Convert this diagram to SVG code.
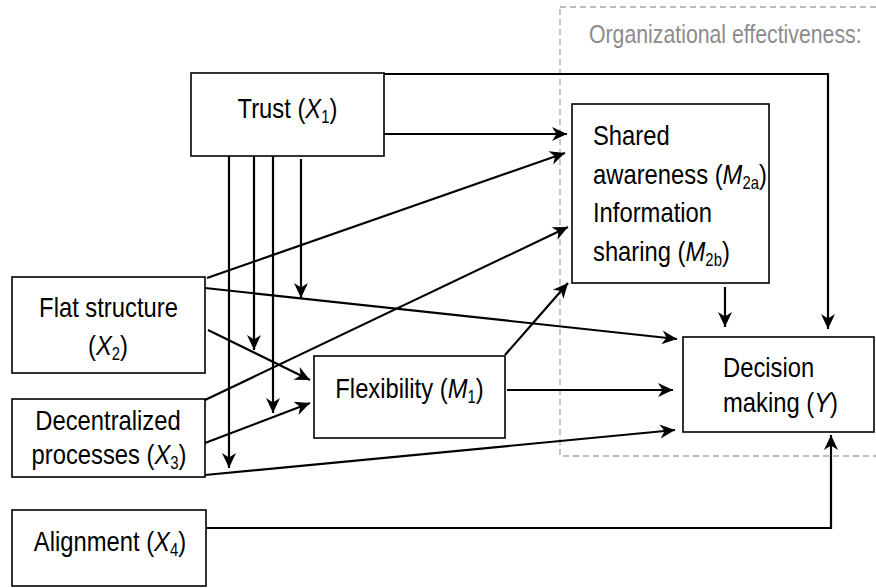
<svg xmlns="http://www.w3.org/2000/svg" width="876" height="588" viewBox="0 0 876 588">
  <defs>
    <style>
      .box { fill: #ffffff; stroke: #000000; stroke-width: 1.6; }
      .lbl { font-family: "Liberation Sans", Arial, sans-serif; font-size: 28px; fill: #000000; }
      .mid { text-anchor: middle; }
      .title { font-family: "Liberation Sans", Arial, sans-serif; font-size: 25.5px; fill: #8c8c8c; }
      .it { font-style: italic; }
      .sub { font-size: 17.5px; }
      .edge { fill: none; stroke: #000000; stroke-width: 2.2; }
      .frame { fill: none; stroke: #a6a6a6; stroke-width: 1.3; stroke-dasharray: 6 4; }
    </style>
    <marker id="arrow" viewBox="-16 -8 18 16" refX="0" refY="0" markerWidth="18" markerHeight="16" markerUnits="userSpaceOnUse" orient="auto">
      <path d="M0,0 L-15,-7 L-10.5,0 L-15,7 Z" fill="#000000"/>
    </marker>
  </defs>

  <!-- dashed frame for the effectiveness outcomes -->
  <g id="effectiveness-frame">
    <rect class="frame" x="560" y="7" width="330" height="449"/>
    <text class="title" transform="translate(589,43) scale(0.834,1)">Organizational effectiveness:</text>
  </g>

  <!-- connectors -->
  <g id="connectors">
    <path class="edge" d="M384,74 H828 V329" marker-end="url(#arrow)"/>
    <path class="edge" d="M384,134 H567" marker-end="url(#arrow)"/>
    <path class="edge" d="M207,278 L565,153" marker-end="url(#arrow)"/>
    <path class="edge" d="M205,400 L568,227" marker-end="url(#arrow)"/>
    <path class="edge" d="M505,355 L568,283" marker-end="url(#arrow)"/>
    <path class="edge" d="M205,288 L677,339" marker-end="url(#arrow)"/>
    <path class="edge" d="M208,330 L310,380" marker-end="url(#arrow)"/>
    <path class="edge" d="M205,443 L310,403" marker-end="url(#arrow)"/>
    <path class="edge" d="M507,390 L673,390" marker-end="url(#arrow)"/>
    <path class="edge" d="M205,475 L675,430" marker-end="url(#arrow)"/>
    <path class="edge" d="M725,287 V327" marker-end="url(#arrow)"/>
    <path class="edge" d="M206,528 H831 V435" marker-end="url(#arrow)"/>
    <!-- moderating paths from trust -->
    <path class="edge" d="M229,156 V468" marker-end="url(#arrow)"/>
    <path class="edge" d="M254,156 V350" marker-end="url(#arrow)"/>
    <path class="edge" d="M273,156 V413" marker-end="url(#arrow)"/>
    <path class="edge" d="M301,159 V298" marker-end="url(#arrow)"/>
  </g>

  <g id="trust">
    <rect class="box" x="191" y="73" width="193" height="83"/>
    <text class="lbl mid" transform="translate(287.5,118) scale(0.85,1)">Trust (<tspan class="it">X</tspan><tspan class="sub" dy="5">1</tspan><tspan dy="-5">)</tspan></text>
  </g>

  <g id="shared-awareness">
    <rect class="box" x="572" y="104" width="197" height="179"/>
    <text class="lbl" transform="translate(593,145) scale(0.85,1)">Shared</text>
    <text class="lbl" transform="translate(593,184) scale(0.85,1)">awareness (<tspan class="it">M</tspan><tspan class="sub" dy="5">2a</tspan><tspan dy="-5">)</tspan></text>
    <text class="lbl" transform="translate(593,222) scale(0.85,1)">Information</text>
    <text class="lbl" transform="translate(593,261) scale(0.85,1)">sharing (<tspan class="it">M</tspan><tspan class="sub" dy="5">2b</tspan><tspan dy="-5">)</tspan></text>
  </g>

  <g id="flat-structure">
    <rect class="box" x="12" y="277" width="193" height="96"/>
    <text class="lbl mid" transform="translate(108.5,317) scale(0.85,1)">Flat structure</text>
    <text class="lbl mid" transform="translate(108,355) scale(0.85,1)">(<tspan class="it">X</tspan><tspan class="sub" dy="5">2</tspan><tspan dy="-5">)</tspan></text>
  </g>

  <g id="decentralized">
    <rect class="box" x="12" y="399" width="193" height="78"/>
    <text class="lbl mid" transform="translate(108,430) scale(0.85,1)">Decentralized</text>
    <text class="lbl mid" transform="translate(109,464) scale(0.85,1)">processes (<tspan class="it">X</tspan><tspan class="sub" dy="5">3</tspan><tspan dy="-5">)</tspan></text>
  </g>

  <g id="flexibility">
    <rect class="box" x="314" y="356" width="191" height="82"/>
    <text class="lbl mid" transform="translate(409.5,398) scale(0.85,1)">Flexibility (<tspan class="it">M</tspan><tspan class="sub" dy="5">1</tspan><tspan dy="-5">)</tspan></text>
  </g>

  <g id="decision-making">
    <rect class="box" x="683" y="337" width="191" height="95"/>
    <text class="lbl" transform="translate(723,377) scale(0.85,1)">Decision</text>
    <text class="lbl" transform="translate(723,412) scale(0.85,1)">making (<tspan class="it">Y</tspan>)</text>
  </g>

  <g id="alignment">
    <rect class="box" x="12" y="510" width="194" height="76"/>
    <text class="lbl mid" transform="translate(110,551) scale(0.85,1)">Alignment (<tspan class="it">X</tspan><tspan class="sub" dy="5">4</tspan><tspan dy="-5">)</tspan></text>
  </g>
</svg>
